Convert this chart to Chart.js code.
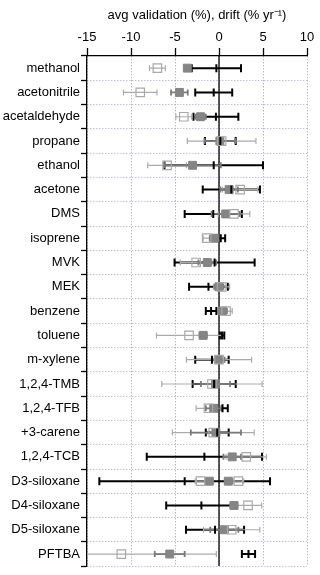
<!DOCTYPE html>
<html>
<head>
<meta charset="utf-8">
<script src="https://cdn.jsdelivr.net/npm/chart.js@4.4.1/dist/chart.umd.min.js"></script>
<style>
  html, body { margin: 0; padding: 0; background: #fff; }
  #wrap { width: 320px; height: 575px; position: relative; }
</style>
</head>
<body>
<div id="wrap"><canvas id="chart"></canvas></div>
<script>
const categories = ["methanol", "acetonitrile", "acetaldehyde", "propane", "ethanol", "acetone", "DMS", "isoprene", "MVK", "MEK", "benzene", "toluene", "m-xylene", "1,2,4-TMB", "1,2,4-TFB", "+3-carene", "1,2,4-TCB", "D3-siloxane", "D4-siloxane", "D5-siloxane", "PFTBA"];

// validation, open squares
const openValue = [-7.0, -8.95, -4.0, 0.3, -5.9, 2.4, 1.7, -1.4, -2.6, 0.3, 0.8, -3.4, 0.0, -0.8, -1.2, -0.65, 3.1, -2.1, 3.3, 1.44, -11.1];
const openErr = [0.9, 1.9, 0.9, 3.9, 2.2, 2.0, 1.8, 0.4, 1.8, 0.9, 0.7, 3.7, 3.7, 5.7, 1.4, 4.65, 2.3, 0.6, 1.55, 3.2, 10.8];
const open2Value = [null, null, null, null, null, null, null, null, null, null, null, null, null, null, null, null, null, 2.2, null, null, null];
const open2Err = [null, null, null, null, null, null, null, null, null, null, null, null, null, null, null, null, null, 0.6, null, null, null];

// validation, filled squares
const fillValue = [-3.6, -4.5, -2.1, 0.1, -3.0, 1.15, 0.76, -0.55, -1.33, 0.0, 0.4, -1.8, -0.07, -0.4, -0.6, -0.35, 1.5, -1.1, 1.7, 0.6, -5.6];
const fillErr = [0.3, 0.95, 0.6, 1.75, 3.2, 1.0, 1.6, 0.5, 1.0, 0.5, 0.5, 0.4, 0.7, 1.65, 0.9, 2.85, 1.0, 0.4, 0.4, 1.6, 1.7];
const fill2Value = [null, null, null, null, null, null, null, null, null, null, null, null, null, null, null, null, null, 1.06, null, null, null];
const fill2Err = [null, null, null, null, null, null, null, null, null, null, null, null, null, null, null, null, null, 0.4, null, null, null];

// drift (% per year), black bars
const driftValue = [-0.3, -0.6, -0.35, 0.15, -0.6, 1.4, -0.65, 0.2, -0.5, -1.2, -0.9, 0.35, -0.8, -0.55, 0.4, -0.2, -1.66, -3.9, -2.0, -0.45, 3.35];
const driftErr = [2.8, 2.1, 2.55, 1.75, 5.6, 3.25, 3.25, 0.5, 4.55, 2.2, 0.6, 0.25, 1.9, 2.45, 0.6, 1.3, 6.55, 9.7, 4.0, 3.3, 0.75];

const xTicks = [-15, -10, -5, 0, 5, 10];

function points(values, errs) {
  const out = [];
  values.forEach((v, i) => {
    if (v === null) return;
    out.push({ x: v, y: categories[i], idx: i, err: errs[i] });
  });
  return out;
}

const FONT = { family: "'Liberation Sans', Arial, sans-serif", size: 13 };

// error bars + zero line, drawn under the squares
const errorBars = {
  id: "errorBars",
  beforeDatasetsDraw(chart) {
    const { ctx, chartArea, scales } = chart;
    const xs = scales.x, ys = scales.y;
    ctx.save();
    ctx.beginPath();
    ctx.rect(chartArea.left, chartArea.top, chartArea.width, chartArea.height);
    ctx.clip();

    const x0 = xs.getPixelForValue(0);
    ctx.strokeStyle = "#000";
    ctx.lineWidth = 1.3;
    ctx.beginPath();
    ctx.moveTo(x0, chartArea.top);
    ctx.lineTo(x0, chartArea.bottom);
    ctx.stroke();

    chart.data.datasets.forEach((ds) => {
      if (!ds.bar) return;
      ctx.strokeStyle = ds.bar.color;
      ctx.lineWidth = ds.bar.width;
      const h = ds.bar.cap / 2;
      ds.data.forEach((p) => {
        const py = ys.getPixelForValue(p.idx);
        const a = xs.getPixelForValue(p.x - p.err);
        const b = xs.getPixelForValue(p.x + p.err);
        ctx.beginPath();
        ctx.moveTo(a, py);
        ctx.lineTo(b, py);
        ctx.moveTo(a, py - h);
        ctx.lineTo(a, py + h);
        ctx.moveTo(b, py - h);
        ctx.lineTo(b, py + h);
        ctx.stroke();
      });
    });
    ctx.restore();
  },
};

const openStyle = { pointStyle: "rect", pointRadius: 6, borderColor: "#a8a8a8", backgroundColor: "rgba(255,255,255,0)", borderWidth: 1.2 };
const fillStyle = { pointStyle: "rect", pointRadius: 5.6, borderColor: "#858585", backgroundColor: "#858585", borderWidth: 1 };

new Chart(document.getElementById("chart"), {
  type: "scatter",
  data: {
    datasets: [
      { label: "drift", data: points(driftValue, driftErr), pointStyle: "line", rotation: 90, pointRadius: 4, borderColor: "#000", borderWidth: 2, bar: { color: "#000", width: 2, cap: 8 } },
      { label: "validation open", data: points(openValue, openErr), ...openStyle, bar: { color: "#ababab", width: 1.2, cap: 6 } },
      { label: "validation open 2", data: points(open2Value, open2Err), ...openStyle, bar: { color: "#ababab", width: 1.2, cap: 6 } },
      { label: "validation", data: points(fillValue, fillErr), ...fillStyle, bar: { color: "#7a7a7a", width: 1.8, cap: 6 } },
      { label: "validation 2", data: points(fill2Value, fill2Err), ...fillStyle, bar: { color: "#7a7a7a", width: 1.8, cap: 6 } },
    ],
  },
  options: {
    responsive: true,
    maintainAspectRatio: false,
    animation: false,
    devicePixelRatio: 1,
    layout: { padding: { top: 0, right: 13, bottom: 5, left: 0 } },
    plugins: { legend: { display: false }, tooltip: { enabled: false } },
    scales: {
      x: {
        type: "linear",
        position: "top",
        min: -15,
        max: 10,
        afterBuildTicks: (s) => { s.ticks = xTicks.map((v) => ({ value: v })); },
        afterFit: (s) => { s.height = 56; },
        ticks: { color: "#000", font: FONT, padding: 3, maxRotation: 0 },
        grid: { color: "#9a9a9a", lineWidth: 1, tickColor: "#000", tickLength: 8, tickWidth: 1.3, tickBorderDash: [] },
        border: { display: true, color: "#000", width: 1.3, dash: [1, 2] },
        title: { display: true, text: "avg validation (%), drift (% yr\u207B\u00B9)", color: "#000", font: FONT, padding: { top: 8, bottom: 0 } },
      },
      y: {
        type: "category",
        labels: categories,
        offset: true,
        afterFit: (s) => { s.width = 87; },
        ticks: { color: "#000", font: FONT, padding: 1, autoSkip: false },
        grid: { offset: true, color: "#9f9ff2", lineWidth: 1, tickColor: "#000", tickLength: 6, tickWidth: 1.3, tickBorderDash: [] },
        border: { display: true, color: "#000", width: 1.3, dash: [1, 2] },
      },
    },
  },
  plugins: [errorBars],
});
</script>
</body>
</html>
